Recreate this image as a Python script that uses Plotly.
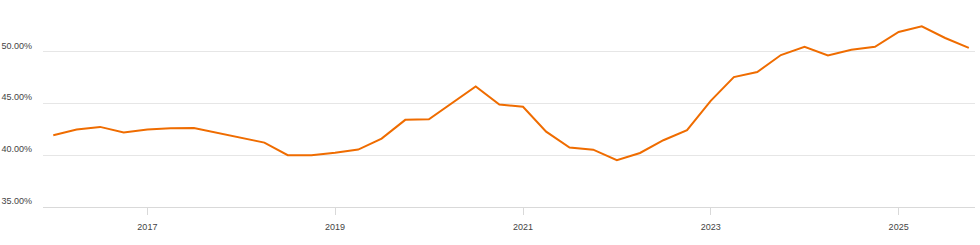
import plotly.graph_objects as go
import pandas as pd

dates = pd.date_range("2016-01-01", periods=40, freq="QS").strftime("%Y-%m-%d").tolist()
values = [41.94, 42.48, 42.74, 42.19, 42.48, 42.61, 42.64, 42.15, 41.68, 41.22,
          40.00, 40.00, 40.25, 40.55, 41.61, 43.42, 43.48, 45.03, 46.64, 44.90,
          44.68, 42.28, 40.74, 40.54, 39.52, 40.22, 41.45, 42.42, 45.26, 47.55,
          48.04, 49.68, 50.48, 49.64, 50.19, 50.48, 51.91, 52.46, 51.33, 50.37]
y_ticks = [35, 40, 45, 50]
y_tick_labels = ["35.00%", "40.00%", "45.00%", "50.00%"]
x_ticks = ["2017-01-01", "2019-01-01", "2021-01-01", "2023-01-01", "2025-01-01"]
x_tick_labels = ["2017", "2019", "2021", "2023", "2025"]

fig = go.Figure()
fig.add_trace(go.Scatter(x=dates, y=values, mode="lines",
                         line=dict(color="#ef6c00", width=2), hoverinfo="skip"))

fig.update_layout(
    width=980, height=245,
    margin=dict(l=43, r=5, t=0, b=38),
    paper_bgcolor="white", plot_bgcolor="white",
    showlegend=False,
    font=dict(family="Liberation Sans, Arial, sans-serif", size=9, color="#444444"),
)
fig.update_xaxes(
    type="date", range=["2015-11-22", "2025-10-25"],
    tickvals=x_ticks, ticktext=x_tick_labels,
    showgrid=False, showline=True, linecolor="#d9d9d9", linewidth=1,
    ticks="outside", ticklen=7, tickcolor="#d9d9d9", tickwidth=1,
    zeroline=False, ticklabelstandoff=4,
)
fig.update_yaxes(
    range=[35, 55], tickvals=y_ticks, ticktext=y_tick_labels,
    showgrid=True, gridcolor="#e6e6e6", gridwidth=1,
    zeroline=False, showline=False,
    ticklabelposition="outside top", ticklabelstandoff=10,
)
fig.write_html("out.html")
